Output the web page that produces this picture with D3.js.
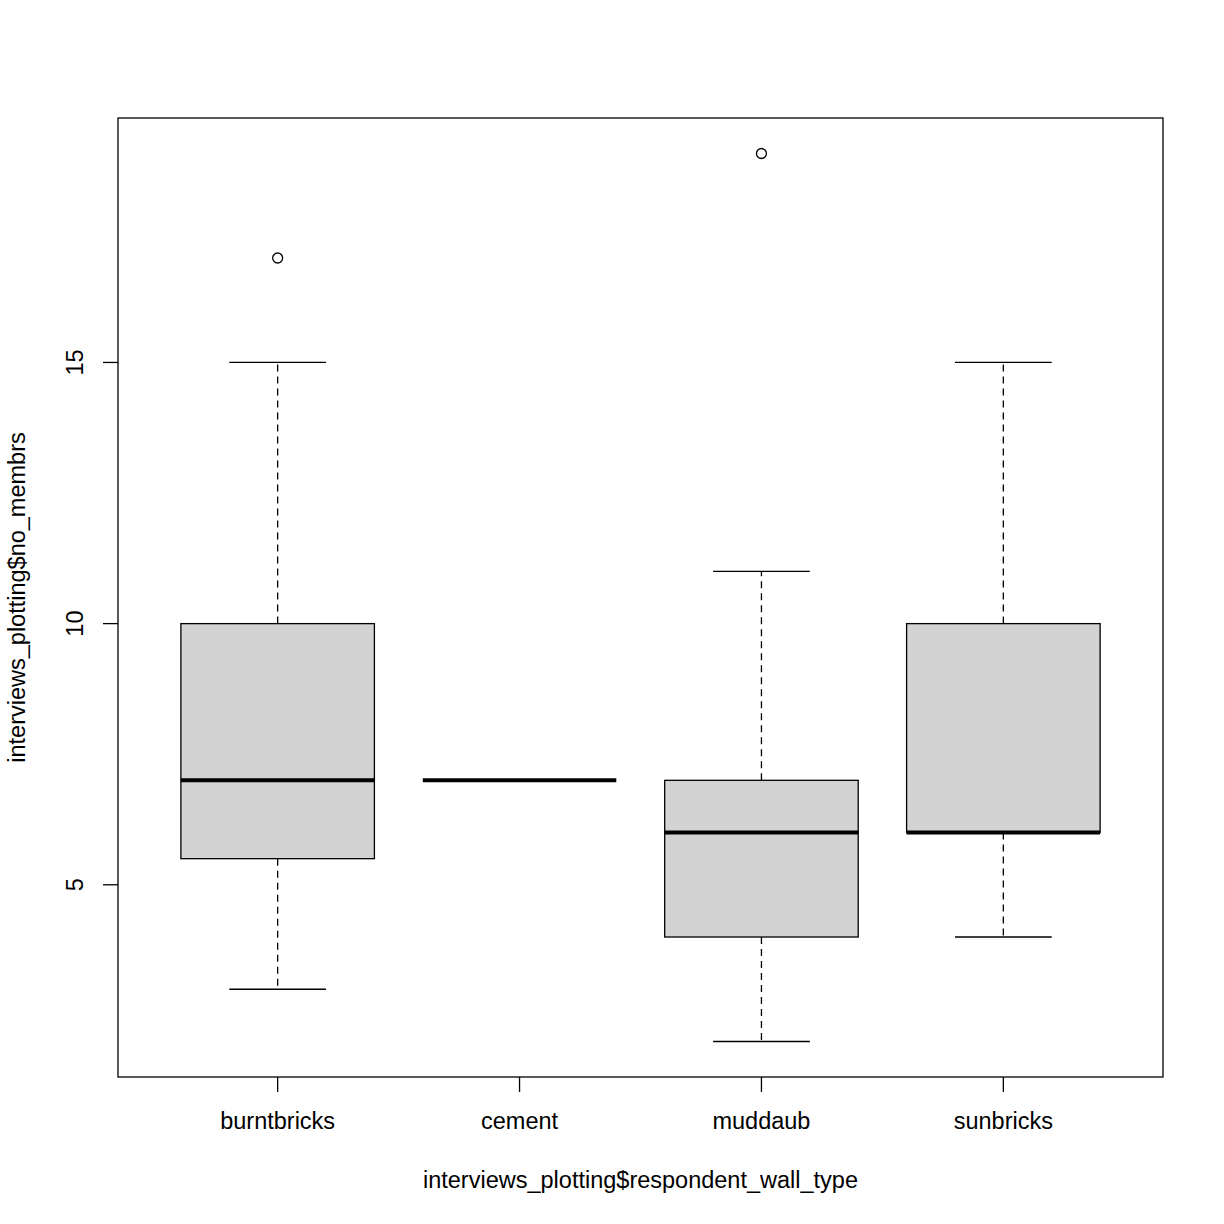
<!DOCTYPE html>
<html><head><meta charset="utf-8">
<script src="https://cdn.jsdelivr.net/npm/d3@7"></script>
<style>body{margin:0;background:#fff}svg{display:block}text{font-family:"Liberation Sans",Arial,Helvetica,sans-serif;fill:#000}</style>
</head><body>
<script>
const categories = ["burntbricks","cement","muddaub","sunbricks"];
const whiskerLow = [3, 7, 2, 4];
const q1 = [5.5, 7, 4, 6];
const median = [7, 7, 6, 6];
const q3 = [10, 7, 7, 10];
const whiskerHigh = [15, 7, 11, 15];
const outliers = [[17], [], [19], []];
const yTicks = [5, 10, 15];
const xTitle = "interviews_plotting$respondent_wall_type";
const yTitle = "interviews_plotting$no_membrs";

const W = 1224, H = 1224;
const L = 118, R = 1163, T = 118, B = 1077;
const FS = 23.5;
const svg = d3.select("body").append("svg").attr("width", W).attr("height", H);

const ymin = 2, ymax = 19, ypad = (ymax - ymin) * 0.04;
const y = d3.scaleLinear().domain([ymin - ypad, ymax + ypad]).range([B, T]);
const xpad = 4 * 0.04;
const x = d3.scaleLinear().domain([0.5 - xpad, 4.5 + xpad]).range([L, R]);
const bw = x(1.4) - x(1);
const cw = x(1.2) - x(1);

const data = categories.map((c, i) => ({c, i: i + 1, lo: whiskerLow[i], q1: q1[i], med: median[i], q3: q3[i], hi: whiskerHigh[i], out: outliers[i]}));

const g = svg.append("g");
data.forEach(d => {
  const cx = x(d.i);
  g.append("line").attr("x1", cx).attr("x2", cx).attr("y1", y(d.q3)).attr("y2", y(d.hi)).attr("stroke", "#000").attr("stroke-width", 1.3).attr("stroke-dasharray", "7,5");
  g.append("line").attr("x1", cx).attr("x2", cx).attr("y1", y(d.q1)).attr("y2", y(d.lo)).attr("stroke", "#000").attr("stroke-width", 1.3).attr("stroke-dasharray", "7,5");
  [d.lo, d.hi].forEach(v => g.append("line").attr("x1", cx - cw).attr("x2", cx + cw).attr("y1", y(v)).attr("y2", y(v)).attr("stroke", "#000").attr("stroke-width", 1.3));
  g.append("rect").attr("x", cx - bw).attr("width", 2 * bw).attr("y", y(d.q3)).attr("height", y(d.q1) - y(d.q3)).attr("fill", "#d3d3d3").attr("stroke", "#000").attr("stroke-width", 1.3);
  g.append("line").attr("x1", cx - bw).attr("x2", cx + bw).attr("y1", y(d.med)).attr("y2", y(d.med)).attr("stroke", "#000").attr("stroke-width", 4);
  d.out.forEach(v => g.append("circle").attr("cx", cx).attr("cy", y(v)).attr("r", 5).attr("fill", "none").attr("stroke", "#000").attr("stroke-width", 1.3));
});

svg.append("rect").attr("x", L).attr("y", T).attr("width", R - L).attr("height", B - T).attr("fill", "none").attr("stroke", "#000").attr("stroke-width", 1.3);

const xa = svg.append("g");
data.forEach(d => {
  xa.append("line").attr("x1", x(d.i)).attr("x2", x(d.i)).attr("y1", B).attr("y2", B + 15).attr("stroke", "#000").attr("stroke-width", 1.3);
  xa.append("text").attr("x", x(d.i)).attr("y", 1129).attr("text-anchor", "middle").attr("font-size", FS).text(d.c);
});
yTicks.forEach(v => {
  svg.append("line").attr("x1", L).attr("x2", L - 15).attr("y1", y(v)).attr("y2", y(v)).attr("stroke", "#000").attr("stroke-width", 1.3);
  svg.append("text").attr("transform", `translate(83,${y(v)}) rotate(-90)`).attr("text-anchor", "middle").attr("font-size", FS).text(v);
});
svg.append("text").attr("x", (L + R) / 2).attr("y", 1188).attr("text-anchor", "middle").attr("font-size", FS).text(xTitle);
svg.append("text").attr("transform", `translate(25,${(T + B) / 2}) rotate(-90)`).attr("text-anchor", "middle").attr("font-size", FS).text(yTitle);
</script>
</body></html>
